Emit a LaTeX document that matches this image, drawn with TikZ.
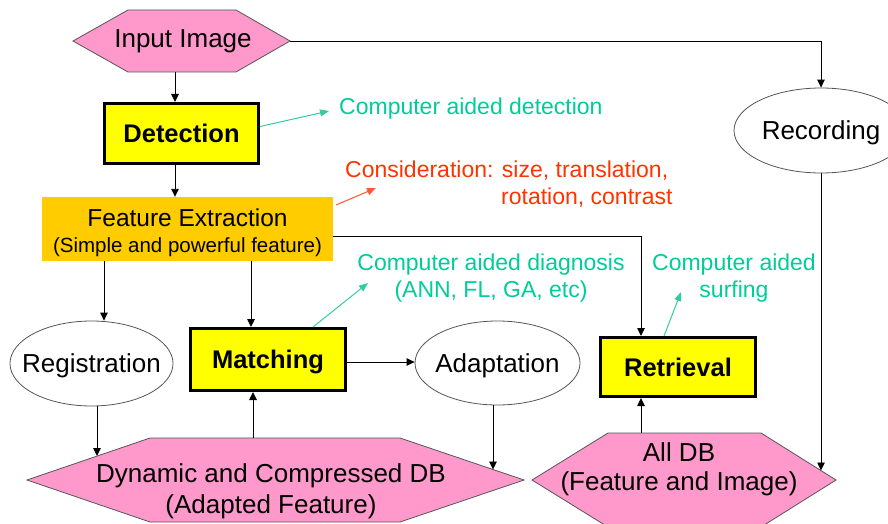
\documentclass[tikz,border=0pt]{standalone}
\usepackage{fontspec}
\setmainfont{Liberation Sans}
\usetikzlibrary{arrows.meta,shapes.geometric}
\definecolor{pinkfill}{HTML}{FF99CC}
\definecolor{featfill}{HTML}{FFCC00}
\definecolor{detfill}{HTML}{FFFF00}
\definecolor{cyantext}{HTML}{00CC99}
\definecolor{cyanline}{HTML}{33CCA0}
\definecolor{redtext}{HTML}{FF3300}
\definecolor{redline}{HTML}{FF5533}
\definecolor{edgegray}{HTML}{555555}
\begin{document}
\begin{tikzpicture}[x=1pt,y=-1pt,
  lbl/.style={font=\fontsize{26}{30}\selectfont, inner sep=0pt},
  ann/.style={font=\fontsize{23}{28}\selectfont, inner sep=0pt},
  conn/.style={draw=black, line width=0.9pt, -{Triangle[length=8pt,width=7.5pt]}},
  cyanarr/.style={draw=cyanline, line width=1pt, -{Triangle[length=9pt,width=7pt]}},
  redarr/.style={draw=redline, line width=1pt, -{Triangle[length=9pt,width=7pt]}},
  procbox/.style={draw=black, line width=3pt, fill=detfill,
    font=\bfseries\fontsize{25.5}{30}\selectfont, text height=18.5pt, text depth=0pt},
  ellnode/.style={ellipse, draw=edgegray, line width=0.8pt, fill=white, inner sep=0pt},
  elltext/.style={font=\fontsize{26}{30}\selectfont, text height=18.5pt, text depth=0pt, inner sep=0pt},
  hexshape/.style={draw=edgegray, line width=0.8pt, fill=pinkfill}
]
\useasboundingbox (0,0) rectangle (888,524);

% ---------- hexagons ----------
\draw[hexshape] (73,41) -- (128,10) -- (236,10) -- (290,41) -- (236,72) -- (128,72) -- cycle;
\draw[hexshape] (27,480) -- (150,438) -- (400,438) -- (524,480) -- (400,522) -- (150,522) -- cycle;
\draw[hexshape] (532,480) -- (608,433) -- (761,433) -- (836,480) -- (761,527) -- (608,527) -- cycle;

\node[lbl, anchor=base] (inlbl) at (183,48) {Input Image};
\node[lbl, anchor=base] (dbl1) at (271,482) {Dynamic and Compressed DB};
\node[lbl, anchor=base] (dbl2) at (271,513) {(Adapted Feature)};
\node[lbl, anchor=base] (all1) at (679,461) {All DB};
\node[lbl, anchor=base] (all2) at (679,490) {(Feature and Image)};

% hexagon anchor points
\coordinate (inS) at (175,72);
\coordinate (inE) at (290,41);
\coordinate (dbTop) at (253,438);
\coordinate (dbLeft) at (97,456);
\coordinate (dbRight) at (493,469.5);
\coordinate (allTop) at (641,433);
\coordinate (allRight) at (821,470.5);

% ---------- boxes ----------
\node[procbox, minimum width=154pt, minimum height=60pt] (det) at (181.5,133.5) {Detection};
\node[fill=featfill, minimum width=291pt, minimum height=64pt, inner sep=0pt] (fe) at (187.5,229) {};
\node[lbl, anchor=base, font=\fontsize{24.5}{28}\selectfont] (fel1) at (187.5,226) {Feature Extraction};
\node[lbl, anchor=base, font=\fontsize{20.5}{24}\selectfont] (fel2) at (187.5,252) {(Simple and powerful feature)};
\node[procbox, minimum width=155pt, minimum height=62pt] (mat) at (268,359.5) {Matching};
\node[procbox, minimum width=155pt, minimum height=59pt] (ret) at (678,367) {Retrieval};

% ---------- ellipses ----------
\node[ellnode, minimum width=163pt, minimum height=85pt] (reg) at (91.5,363.5) {};
\node[elltext] (regt) at (reg) {Registration};
\node[ellnode, minimum width=165pt, minimum height=84pt] (ada) at (497.5,363) {};
\node[elltext] (adat) at (ada) {Adaptation};
\node[ellnode, minimum width=174pt, minimum height=85pt] (rec) at (821,130.5) {};
\node[elltext] (rect) at (rec) {Recording};

% ---------- annotations ----------
\node[ann, text=cyantext, anchor=base west] (cad) at (339,114) {Computer aided detection};
\node[ann, text=redtext, anchor=base west] (con1) at (345,177) {Consideration: size, translation,};
\node[ann, text=redtext, anchor=base west] (con2) at (501,204) {rotation, contrast};
\node[ann, text=cyantext, anchor=base] (diag1) at (491,270) {Computer aided diagnosis};
\node[ann, text=cyantext, anchor=base] (diag2) at (491,297) {(ANN, FL, GA, etc)};
\node[ann, text=cyantext, anchor=base] (surf1) at (734,270) {Computer aided};
\node[ann, text=cyantext, anchor=base] (surf2) at (734,297) {surfing};

\coordinate (cadTip) at (329,111);
\coordinate (conTip) at (376,188);
\coordinate (conStart) at (336,205);
\coordinate (diagTip) at (368,283);
\coordinate (surfTip) at (681,292);
\coordinate (xReg) at (104,0);
\coordinate (xMat) at (251,0);
\coordinate (xRet) at (641,0);

% ---------- connectors ----------
\draw[conn] (inS) -- (inS |- det.north);
\draw[conn] (inE) -| (rec.north);
\draw[conn] (inS |- det.south) -- (inS |- fe.north);
\draw[conn] (fe.south -| xReg) -- (xReg |- reg.north);
\draw[conn] (fe.south -| xMat) -- (xMat |- mat.north);
\draw[conn] ([yshift=-7pt]fe.east) -| (xRet |- ret.north);
\draw[conn] ([yshift=-2.5pt]mat.east) -- ([yshift=1pt]ada.west);
\draw[conn] (dbLeft |- reg.south) -- (dbLeft);
\draw[conn] (dbTop) -- (dbTop |- mat.south);
\draw[conn] (dbRight |- ada.south) -- (dbRight);
\draw[conn] (allTop) -- (allTop |- ret.south);
\draw[conn] (rec.south) -- (allRight);

\draw[cyanarr] ([yshift=7pt]det.east) -- (cadTip);
\draw[redarr] (conStart) -- (conTip);
\draw[cyanarr] (mat.north -| 313,0) -- (diagTip);
\draw[cyanarr] (ret.north -| 664,0) -- (surfTip);
\end{tikzpicture}
\end{document}
